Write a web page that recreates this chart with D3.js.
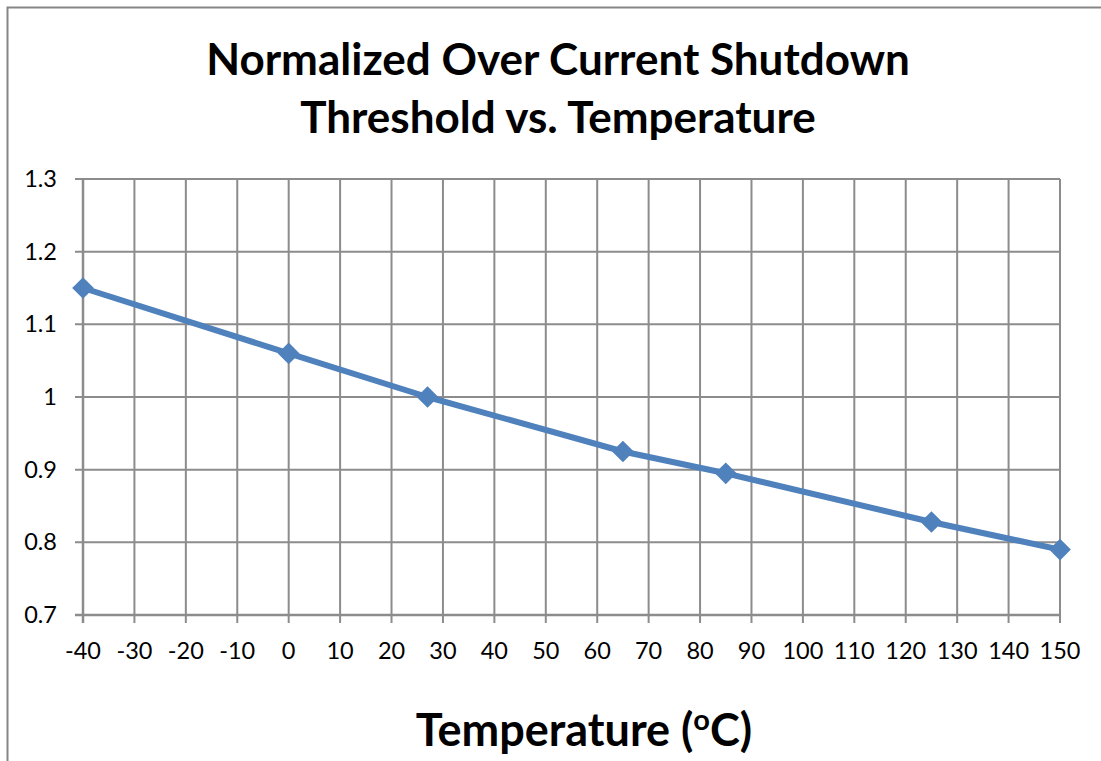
<!doctype html>
<html lang="en">
<head>
  <meta charset="UTF-8">
  <title>Normalized Over Current Shutdown Threshold vs. Temperature</title>
  <style type="text/css">
    html, body { margin: 0; padding: 0; background: #fff; overflow: hidden; }
    svg { display: block; font-family: Lato, "Open Sans", sans-serif; }
  </style>
  <script src="https://cdn.jsdelivr.net/npm/d3@7"></script>
</head>
<body>
  <svg width="1101" height="761"></svg>
  <script>
    let temps = [-40, 0, 27, 65, 85, 125, 150]
    let values = [1.15, 1.06, 1.0, 0.925, 0.895, 0.828, 0.79]
    let xTicks = d3.range(-40, 151, 10)
    let yTicks = [0.7, 0.8, 0.9, 1, 1.1, 1.2, 1.3]
    let titleLines = ['Normalized Over Current Shutdown', 'Threshold vs. Temperature']

    let svg = d3.select('svg')

    // chart frame: only top and left edges are inside the picture
    svg.append('path')
      .attr('d', 'M7.5,761V7.5H1101')
      .attr('fill', 'none')
      .attr('stroke', '#868686')
      .attr('stroke-width', 2)

    let x = d3.scaleLinear().domain([-40, 150]).range([83, 1060])
    let y = d3.scaleLinear().domain([0.7, 1.3]).range([615, 179])

    // grid
    svg.append('g').selectAll('line')
      .data(xTicks)
      .enter().append('line')
      .attr('x1', d => x(d)).attr('x2', d => x(d))
      .attr('y1', y(1.3)).attr('y2', y(0.7) + 8)
      .attr('stroke', '#8c8c8c')
      .attr('stroke-width', d => d === -40 ? 2.5 : 2)

    svg.append('g').selectAll('line')
      .data(yTicks)
      .enter().append('line')
      .attr('x1', x(-40) - 8).attr('x2', x(150))
      .attr('y1', d => y(d)).attr('y2', d => y(d))
      .attr('stroke', '#8c8c8c')
      .attr('stroke-width', d => d === 0.7 ? 2.5 : 2)

    // tick labels
    svg.append('g').selectAll('text')
      .data(xTicks)
      .enter().append('text')
      .attr('x', d => x(d))
      .attr('y', 659)
      .attr('text-anchor', 'middle')
      .attr('font-size', 23.5)
      .text(d => d)

    svg.append('g').selectAll('text')
      .data(yTicks)
      .enter().append('text')
      .attr('x', 57)
      .attr('y', d => y(d) + 8)
      .attr('text-anchor', 'end')
      .attr('font-size', 23.5)
      .text(d => d3.format('')(d))

    // series
    let pts = temps.map((t, i) => [t, values[i]])
    svg.append('path')
      .datum(pts)
      .attr('fill', 'none')
      .attr('stroke', '#4f81bd')
      .attr('stroke-width', 6)
      .attr('stroke-linejoin', 'round')
      .attr('d', d3.line().x(d => x(d[0])).y(d => y(d[1])))

    svg.append('g').selectAll('path')
      .data(pts)
      .enter().append('path')
      .attr('transform', d => `translate(${x(d[0])},${y(d[1])})`)
      .attr('d', d3.symbol().type(d3.symbolDiamond2).size(300))
      .attr('fill', '#4f81bd')

    // titles
    svg.append('g').selectAll('text')
      .data(titleLines)
      .enter().append('text')
      .attr('x', 558)
      .attr('y', (d, i) => 75 + i * 58)
      .attr('text-anchor', 'middle')
      .attr('font-size', 44)
      .attr('font-weight', 'bold')
      .text(d => d)

    let xt = svg.append('text')
      .attr('x', 584)
      .attr('y', 746)
      .attr('text-anchor', 'middle')
      .attr('font-size', 45)
      .attr('font-weight', 'bold')
    xt.append('tspan').text('Temperature (')
    xt.append('tspan').attr('font-size', 29).attr('dy', -16).text('o')
    xt.append('tspan').attr('dy', 16).text('C)')
  </script>
</body>
</html>
